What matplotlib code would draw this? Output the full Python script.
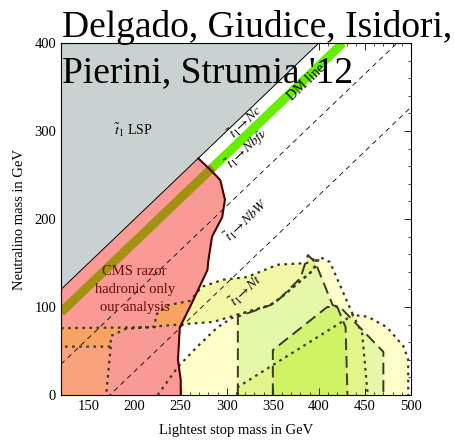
import matplotlib
matplotlib.use('Agg')
import matplotlib.pyplot as plt
from matplotlib.patches import Polygon
from matplotlib.ticker import MultipleLocator

plt.rcParams['font.family'] = ['Liberation Serif', 'DejaVu Serif']
plt.rcParams['mathtext.fontset'] = 'stix'

# stop LSP region (m_N > m_stop)
lsp_x = [120, 120, 400]
lsp_y = [120, 400, 400]

# CMS razor hadronic exclusion
red_x = [120, 269, 285, 293, 298, 295, 284, 280, 279, 260, 249, 247, 250, 250, 120]
red_y = [120, 269, 253, 244, 222, 202, 180, 153, 142, 100, 77, 40, 17, 0, 0]

# yellow band along the t -> N t threshold
band_x = [120, 222, 223, 236, 260, 273, 296, 322, 355, 387, 398,
          394, 358, 347, 311, 285, 247, 190, 174, 174, 120]
band_y = [76, 77, 91, 102, 107, 123, 131, 134, 148, 150, 156,
          142, 110, 102, 91, 83, 80, 75, 67, 55, 55]

# lower left salmon region
low_x = [120, 174, 169, 120]
low_y = [55, 55, 0, 0]

# outer light yellow region
outer_x = [225, 247, 268, 290, 311, 347, 358, 394, 401, 412, 437, 453, 474, 492, 497, 497]
outer_y = [0, 32, 55, 77, 91, 102, 110, 142, 157, 151, 91, 89, 77, 55, 40, 0]

# green regions
g1_x = [312, 312, 347, 358, 380, 388, 396, 415, 423, 470, 470]
g1_y = [0, 89, 102, 110, 133, 159, 151, 102, 100, 49, 0]
g2_x = [350, 350, 409, 420, 429, 431]
g2_y = [0, 51, 100, 100, 77, 0]
g3_x = [312, 312, 350, 437, 447, 453]
g3_y = [0, 9, 34, 91, 70, 0]

# DM line (olive inside the CMS region, green outside)
dm_x = [120, 285, 426]
dm_y = [94, 259, 400]

# kinematic thresholds m_N = m_stop - dm
thr_dm = [85, 173]

fig = plt.figure(figsize=(4.54, 4.44), dpi=100)
ax = fig.add_axes([61/454, 49/444, 350/454, 352/444])
ax.set_xlim(120, 500)
ax.set_ylim(0, 400)

def poly(xs, ys, **kw):
    p = Polygon(list(zip(xs, ys)), closed=True, **kw)
    ax.add_patch(p)
    return p

edge = '#3a3a1a'
poly(outer_x, outer_y, facecolor='#FEFECB', edgecolor='none', zorder=1)
poly(g1_x, g1_y, facecolor='#C8F080', alpha=0.45, edgecolor='none', zorder=1.1)
poly(g3_x, g3_y, facecolor='#E0F060', alpha=0.4, edgecolor='none', zorder=1.2)
poly(g2_x, g2_y, facecolor='#C0F040', alpha=0.5, edgecolor='none', zorder=1.3)
poly(band_x, band_y, facecolor='#E8F060', alpha=0.55, edgecolor='none', zorder=1.4)

red = poly(red_x, red_y, facecolor='#FA9A96', edgecolor='none', zorder=2)
ob = poly(band_x, band_y, facecolor='#F7A462', edgecolor='none', zorder=2.1)
ob.set_clip_path(red)
ol = poly(low_x, low_y, facecolor='#F8A27E', edgecolor='none', zorder=2.1)
ol.set_clip_path(red)

poly(lsp_x, lsp_y, facecolor='#C9D1D1', edgecolor='none', zorder=2.5)
ax.plot([120, 400], [120, 400], color='black', lw=0.7, zorder=3)

# threshold lines
for d in thr_dm:
    ax.plot([120, 500], [120 - d, 500 - d], color='black', lw=0.6,
            dashes=(6, 5), zorder=3)

# contour outlines
dotted = dict(color=edge, lw=1.6, linestyle=(0, (1.2, 2)), zorder=4)
dashed = dict(color=edge, lw=1.4, linestyle=(0, (6, 3)), zorder=4)
ax.plot(outer_x, outer_y, **dotted)
ax.plot(band_x + band_x[:1], band_y + band_y[:1], **dotted)
ax.plot(low_x[1:3], low_y[1:3], **dotted)
ax.plot(g3_x, g3_y, **dotted)
ax.plot(g1_x, g1_y, **dashed)
ax.plot(g2_x, g2_y, **dashed)

# CMS boundary
ax.plot(red_x[1:14], red_y[1:14], color='#4a0000', lw=1.5, zorder=4.5)

# DM line
ax.plot(dm_x[:2], dm_y[:2], color='#A39212', lw=6.5, solid_capstyle='butt', zorder=3.5)
ax.plot(dm_x[1:], dm_y[1:], color='#66EE00', lw=6.5, solid_capstyle='butt', zorder=3.5)

ang = 43.7
ax.text(386, 355, 'DM line', rotation=ang, ha='center', va='center', fontsize=10, zorder=6)
ax.text(320, 310, r'$\tilde t_1\!\to\! Nc$', rotation=ang, ha='center', va='center', fontsize=10, zorder=6)
ax.text(322, 280, r'$\tilde t_1\!\to\! Nbf\nu$', rotation=ang, ha='center', va='center', fontsize=10, zorder=6)
ax.text(321, 199, r'$\tilde t_1\!\to\! NbW$', rotation=ang, ha='center', va='center', fontsize=10, zorder=6)
ax.text(321, 119, r'$\tilde t_1\!\to\! Nt$', rotation=ang, ha='center', va='center', fontsize=10, zorder=6)
ax.text(198, 301, r'$\tilde t_1$ LSP', ha='center', va='center', fontsize=10, zorder=6)
ax.text(200, 120, 'CMS razor\nhadronic only\nour analysis', ha='center', va='center',
        fontsize=10.5, color='#6a0808', linespacing=1.5, zorder=6)

ax.xaxis.set_major_locator(MultipleLocator(50))
ax.xaxis.set_minor_locator(MultipleLocator(10))
ax.yaxis.set_major_locator(MultipleLocator(100))
ax.yaxis.set_minor_locator(MultipleLocator(20))
ax.tick_params(which='both', direction='in', top=True, right=True, labelsize=10.5)
ax.tick_params(which='major', length=5, width=0.6)
ax.tick_params(which='minor', length=2.5, width=0.5)
for s in ax.spines.values():
    s.set_linewidth(0.8)
    s.set_zorder(7)

ax.set_xlabel('Lightest stop mass in GeV', fontsize=10.5, labelpad=8)
ax.set_ylabel('Neutralino mass in GeV', fontsize=10.5, labelpad=6)

fig.text(62/454, 1 - 37/444, 'Delgado, Giudice, Isidori,', fontsize=27, va='baseline', ha='left')
fig.text(62/454, 1 - 82/444, "Pierini, Strumia '12", fontsize=27, va='baseline', ha='left')

fig.savefig('out.png', dpi=100)
